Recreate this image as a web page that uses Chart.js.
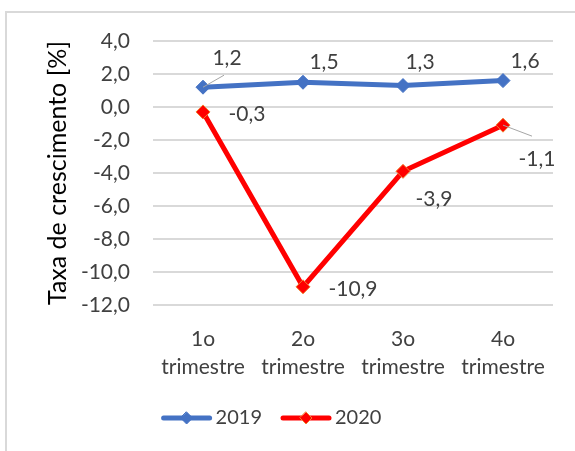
<!DOCTYPE html>
<html>
<head>
<meta charset="utf-8">
<script src="https://cdn.jsdelivr.net/npm/chart.js@4.4.0/dist/chart.umd.min.js"></script>
<style>
  html, body { margin: 0; padding: 0; background: #fff; }
  #wrap { width: 575px; height: 451px; position: relative; }
</style>
</head>
<body>
<div id="wrap"><canvas id="myLineChart"></canvas></div>
<script>
// dados
const categories = [['1o', 'trimestre'], ['2o', 'trimestre'], ['3o', 'trimestre'], ['4o', 'trimestre']];
const seriesNames = ['2019', '2020'];
const values2019 = [1.2, 1.5, 1.3, 1.6];
const values2020 = [-0.3, -10.9, -3.9, -1.1];
const yTicks = [4, 2, 0, -2, -4, -6, -8, -10, -12];
const yTitle = 'Taxa de crescimento [%]';

// posicao dos rotulos em relacao ao ponto (px)
const labelOffsets = [
  [[24, -29], [21, -20], [17, -23], [22, -19]],
  [[44, 2], [50, 2], [31, 28], [34, 34]]
];
// linhas de chamada: [dataset, indice, dx, dy]
const leaders = [[0, 0, 21, -12], [1, 3, 29, 11]];

const FONT = 'Lato';
const fmt = function(v) { return v.toFixed(1).replace('.', ','); };

const frame = {
  id: 'frame',
  beforeDraw: function(chart) {
    const ctx = chart.ctx;
    ctx.save();
    ctx.fillStyle = '#fff';
    ctx.fillRect(0, 0, chart.width, chart.height);
    ctx.strokeStyle = '#d9d9d9';
    ctx.lineWidth = 2;
    ctx.strokeRect(6, 12, chart.width + 20, chart.height + 20);
    ctx.restore();
  }
};

const dataLabels = {
  id: 'dataLabels',
  afterDatasetsDraw: function(chart) {
    const ctx = chart.ctx;
    ctx.save();
    ctx.strokeStyle = '#a6a6a6';
    ctx.lineWidth = 1;
    leaders.forEach(function(l) {
      const p = chart.getDatasetMeta(l[0]).data[l[1]];
      ctx.beginPath();
      ctx.moveTo(p.x, p.y);
      ctx.lineTo(p.x + l[2], p.y + l[3]);
      ctx.stroke();
    });
    ctx.font = '21px ' + FONT;
    ctx.fillStyle = '#404040';
    ctx.textAlign = 'center';
    ctx.textBaseline = 'middle';
    chart.data.datasets.forEach(function(ds, di) {
      chart.getDatasetMeta(di).data.forEach(function(p, i) {
        const o = labelOffsets[di][i];
        ctx.fillText(fmt(ds.data[i]), p.x + o[0], p.y + o[1]);
      });
    });
    ctx.restore();
  }
};

const legendBottom = {
  id: 'legendBottom',
  afterDraw: function(chart) {
    const ctx = chart.ctx;
    const y = 418, iconW = 52, gap = 3, itemGap = 18, centerX = 271;
    ctx.save();
    ctx.font = '20px ' + FONT;
    const widths = chart.data.datasets.map(function(ds) { return ctx.measureText(ds.label).width; });
    let total = 0;
    widths.forEach(function(w, i) { total += iconW + gap + w + (i ? itemGap : 0); });
    let x = centerX - total / 2;
    chart.data.datasets.forEach(function(ds, i) {
      ctx.strokeStyle = ds.borderColor;
      ctx.lineWidth = 5;
      ctx.lineCap = 'round';
      ctx.beginPath();
      ctx.moveTo(x + 3, y);
      ctx.lineTo(x + iconW - 3, y);
      ctx.stroke();
      const cx = x + iconW / 2, r = 6;
      ctx.beginPath();
      ctx.moveTo(cx, y - r); ctx.lineTo(cx + r, y); ctx.lineTo(cx, y + r); ctx.lineTo(cx - r, y);
      ctx.closePath();
      ctx.fillStyle = ds.pointBackgroundColor;
      ctx.fill();
      ctx.lineWidth = 1;
      ctx.strokeStyle = ds.pointBorderColor;
      ctx.stroke();
      ctx.fillStyle = '#404040';
      ctx.textAlign = 'left';
      ctx.textBaseline = 'middle';
      ctx.fillText(ds.label, x + iconW + gap, y);
      x += iconW + gap + widths[i] + itemGap;
    });
    ctx.restore();
  }
};

const ctxLine = document.getElementById('myLineChart').getContext('2d');
new Chart(ctxLine, {
  type: 'line',
  data: {
    labels: categories,
    datasets: [{
      label: seriesNames[0],
      data: values2019,
      borderColor: '#4472c4',
      borderWidth: 5,
      pointStyle: 'rectRot',
      pointRadius: 7,
      pointBackgroundColor: '#4472c4',
      pointBorderColor: '#4472c4',
      pointBorderWidth: 1,
      tension: 0
    }, {
      label: seriesNames[1],
      data: values2020,
      borderColor: '#ff0000',
      borderWidth: 5,
      pointStyle: 'rectRot',
      pointRadius: 7,
      pointBackgroundColor: '#ff0000',
      pointBorderColor: '#f08030',
      pointBorderWidth: 1,
      tension: 0
    }]
  },
  options: {
    responsive: true,
    maintainAspectRatio: false,
    animation: false,
    layout: {
      padding: { left: 39, right: 22, top: 41, bottom: 66 }
    },
    scales: {
      x: {
        offset: true,
        grid: { display: false, drawTicks: false },
        border: { display: false },
        ticks: {
          color: '#404040',
          padding: 20,
          maxRotation: 0,
          autoSkip: false,
          font: { family: FONT, size: 21, lineHeight: 1.33 }
        },
        afterFit: function(scale) { scale.height = 80; }
      },
      y: {
        min: -12,
        max: 4,
        afterBuildTicks: function(scale) {
          scale.ticks = yTicks.map(function(v) { return { value: v }; });
        },
        grid: { color: '#d9d9d9', lineWidth: 2, drawTicks: false },
        border: { display: false },
        ticks: {
          color: '#404040',
          padding: 23,
          font: { family: FONT, size: 21 },
          callback: function(v) { return fmt(v); }
        },
        title: {
          display: true,
          text: yTitle,
          color: '#000',
          font: { family: FONT, size: 25 },
          padding: { top: 4, bottom: 4 }
        },
        afterFit: function(scale) { scale.width = 114; }
      }
    },
    plugins: {
      legend: { display: false },
      tooltip: { enabled: false }
    }
  },
  plugins: [frame, dataLabels, legendBottom]
});
</script>
</body>
</html>
